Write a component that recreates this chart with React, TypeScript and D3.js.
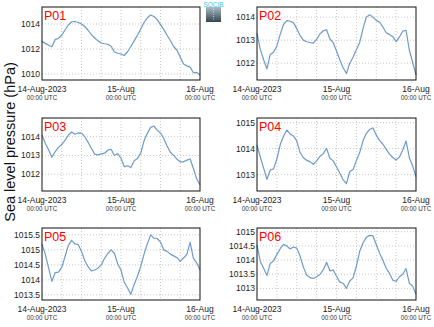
import React from 'react';
import * as d3 from 'd3';

// Hourly sea level pressure (hPa), 14-Aug-2023 00:00 UTC .. 16-Aug-2023 00:00 UTC
const startTime = Date.UTC(2023, 7, 14, 0, 0);
const hourCount = 49;

const p01 = [1012.61,1012.45,1012.3,1012.18,1012.75,1012.86,1013.1,1013.52,1013.92,1014.18,1014.2,1014.12,1014.0,1013.8,1013.5,1013.15,1012.88,1012.65,1012.48,1012.42,1012.38,1012.22,1011.76,1011.66,1011.6,1011.48,1011.78,1012.2,1012.65,1013.1,1013.6,1014.12,1014.5,1014.72,1014.6,1014.35,1013.95,1013.55,1013.1,1012.68,1012.2,1011.9,1011.35,1010.8,1010.65,1010.55,1010.1,1010.13,1009.92];
const p02 = [1013.31,1012.6,1012.15,1011.75,1012.38,1012.48,1012.75,1013.25,1013.68,1013.85,1013.82,1013.76,1013.5,1013.2,1013.0,1012.93,1012.9,1012.87,1013.03,1013.27,1013.41,1013.45,1013.05,1012.89,1012.53,1012.15,1011.8,1011.55,1012.0,1012.26,1012.58,1012.9,1013.5,1014.0,1014.1,1014.0,1013.86,1013.78,1013.57,1013.32,1013.25,1013.15,1012.94,1013.14,1013.39,1013.43,1012.55,1012.03,1011.49];
const p03 = [1014.09,1013.65,1013.3,1012.9,1013.2,1013.43,1013.58,1013.82,1014.08,1014.25,1014.13,1014.2,1014.19,1014.0,1013.7,1013.38,1013.07,1013.03,1013.08,1013.12,1013.28,1013.33,1013.0,1013.1,1012.85,1012.4,1012.45,1012.35,1012.72,1012.84,1013.12,1013.78,1014.18,1014.5,1014.57,1014.35,1014.2,1013.91,1013.5,1013.17,1013.0,1012.8,1012.66,1012.66,1012.75,1012.81,1012.3,1011.75,1011.43];
const p04 = [1014.14,1013.68,1013.25,1012.82,1013.18,1013.22,1013.6,1014.15,1014.48,1014.72,1014.56,1014.49,1014.3,1013.85,1013.65,1013.55,1013.5,1013.4,1013.53,1013.7,1013.81,1014.01,1013.63,1013.53,1013.3,1013.05,1012.8,1012.65,1013.12,1013.2,1013.54,1013.85,1014.3,1014.58,1014.74,1014.8,1014.52,1014.32,1014.17,1013.98,1013.79,1013.66,1013.56,1013.68,1013.95,1014.3,1013.65,1013.33,1012.92];
const p05 = [1015.19,1014.85,1014.4,1013.95,1014.24,1014.26,1014.42,1014.78,1015.15,1015.32,1015.2,1015.18,1014.95,1014.64,1014.44,1014.3,1014.33,1014.39,1014.5,1014.72,1014.88,1015.0,1014.88,1014.54,1014.33,1013.92,1013.73,1013.52,1013.85,1014.12,1014.45,1014.86,1015.2,1015.5,1015.39,1015.38,1015.26,1015.0,1014.95,1014.86,1014.8,1014.74,1014.62,1014.73,1014.85,1015.25,1014.72,1014.57,1014.33];
const p06 = [1014.53,1013.95,1013.71,1013.45,1013.88,1013.97,1014.2,1014.4,1014.55,1014.5,1014.39,1014.46,1014.42,1014.14,1013.75,1013.47,1013.38,1013.35,1013.41,1013.49,1013.65,1013.92,1013.62,1013.65,1013.43,1013.22,1013.18,1013.0,1013.26,1013.37,1013.78,1014.31,1014.6,1014.8,1014.87,1014.85,1014.55,1014.25,1013.99,1013.71,1013.53,1013.29,1013.25,1013.41,1013.5,1013.7,1013.18,1013.08,1012.79];

const panelNames = ['P01', 'P02', 'P03', 'P04', 'P05', 'P06'];
const panelSeries = [p01, p02, p03, p04, p05, p06];
const panelDomains: [number, number][] = [
  [1009.52, 1015.36],
  [1011.27, 1014.44],
  [1011.1, 1015.0],
  [1012.37, 1015.18],
  [1013.33, 1015.73],
  [1012.59, 1015.13],
];
const panelTicks = [
  [1010, 1012, 1014],
  [1012, 1013, 1014],
  [1012, 1013, 1014],
  [1013, 1014, 1015],
  [1013.5, 1014, 1014.5, 1015, 1015.5],
  [1013, 1013.5, 1014, 1014.5, 1015],
];
const dayLabels = ['14-Aug-2023', '15-Aug', '16-Aug'];
const timeLabel = '00:00 UTC';
const yTitle = 'Sea level pressure (hPa)';

const HOUR = 3600 * 1000;
const times = d3.range(hourCount).map((i) => new Date(startTime + i * HOUR));
const gridHours = [6, 12, 18, 24, 30, 36, 42];
const labelHours = [0, 24, 48];

const colX = [[42, 200], [257, 416]];
const rowY = [[7, 80], [118, 191], [228, 300]];

const FONT = '"Liberation Sans", Arial, Helvetica, sans-serif';

function Panel({ idx }: { idx: number }) {
  const col = idx % 2;
  const row = Math.floor(idx / 2);
  const [x0, x1] = colX[col];
  const [y0, y1] = rowY[row];
  const x = d3.scaleUtc().domain([times[0], times[times.length - 1]]).range([x0, x1]);
  const y = d3.scaleLinear().domain(panelDomains[idx]).range([y1, y0]);
  const series = panelSeries[idx];
  const line = d3
    .line<number>()
    .x((_, i) => x(times[i]))
    .y((d) => y(d));
  return (
    <g>
      {gridHours.map((h) => {
        const gx = x(new Date(startTime + h * HOUR));
        return (
          <line key={'v' + h} x1={gx} x2={gx} y1={y0} y2={y1} stroke="#c8c8c8" strokeWidth={1} strokeDasharray="1,2" />
        );
      })}
      {panelTicks[idx].map((t) => (
        <line key={'h' + t} x1={x0} x2={x1} y1={y(t)} y2={y(t)} stroke="#c8c8c8" strokeWidth={1} strokeDasharray="1,2" />
      ))}
      <path d={line(series) || ''} fill="none" stroke="#6d9bc8" strokeWidth={1.2} strokeLinejoin="round" />
      <rect x={x0} y={y0} width={x1 - x0} height={y1 - y0} fill="none" stroke="#111" strokeWidth={1} />
      {panelTicks[idx].map((t) => (
        <text key={'t' + t} x={x0 - 2} y={y(t)} dy="0.35em" textAnchor="end" fontSize={8.5} fill="#222" fontFamily={FONT}>
          {String(t)}
        </text>
      ))}
      {labelHours.map((h, i) => {
        const lx = x(new Date(startTime + h * HOUR));
        return (
          <g key={'l' + h}>
            <text x={lx} y={y1 + 11.5} textAnchor="middle" fontSize={8.5} fill="#222" fontFamily={FONT}>
              {dayLabels[i]}
            </text>
            <text x={lx} y={y1 + 20} textAnchor="middle" fontSize={6.3} fill="#333" fontFamily={FONT}>
              {timeLabel}
            </text>
          </g>
        );
      })}
      <text x={x0 + 2} y={y0 + 13} fontSize={12.5} fill="#ff0000" fontFamily={FONT}>
        {panelNames[idx]}
      </text>
    </g>
  );
}

export default function App() {
  return (
    <svg
      width={434}
      height={327}
      style={{ position: 'absolute', left: 0, top: 0, background: '#fff' }}
      fontFamily={FONT}
    >
      <rect x={0} y={0} width={434} height={327} fill="#fff" />
      <defs>
        <linearGradient id="logoGrad" x1="0" y1="0" x2="0" y2="1">
          <stop offset="0" stopColor="#a9bcc4" />
          <stop offset="1" stopColor="#33454f" />
        </linearGradient>
      </defs>
      <g>
        <rect x={206} y={7} width={15} height={15} fill="url(#logoGrad)" />
        <line x1={213.5} x2={213.5} y1={9} y2={20} stroke="#fff" strokeWidth={0.8} strokeDasharray="0.8,1.6" />
        <text x={213.5} y={7} textAnchor="middle" fontSize={6.5} fill="#3ec3e6" fontFamily={FONT}>
          SOCIB
        </text>
      </g>
      {panelNames.map((_, i) => (
        <Panel key={i} idx={i} />
      ))}
      <text
        transform="translate(15,142) rotate(-90)"
        textAnchor="middle"
        fontSize={14.5}
        fill="#111"
        fontFamily={FONT}
      >
        {yTitle}
      </text>
    </svg>
  );
}
